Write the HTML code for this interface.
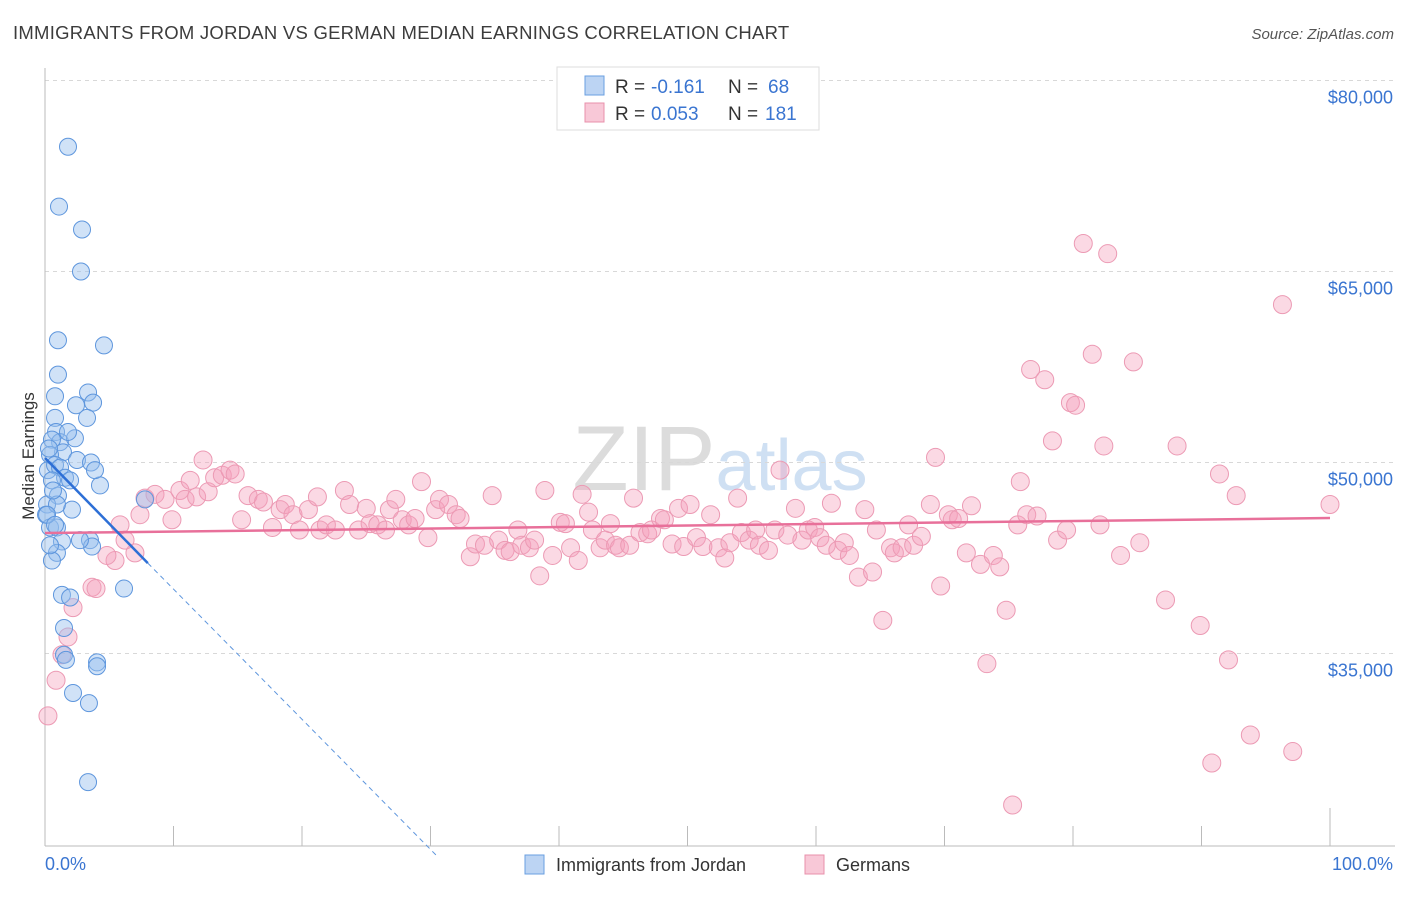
<!DOCTYPE html>
<html><head><meta charset="utf-8"><style>
body{margin:0;background:#fff;font-family:"Liberation Sans",sans-serif;}
svg text{font-family:"Liberation Sans",sans-serif;}
</style></head><body>
<svg id="chart" width="1406" height="892" viewBox="0 0 1406 892" xmlns="http://www.w3.org/2000/svg">
<text x="13" y="39" font-size="18.5" letter-spacing="0.25" fill="#3c3c3c">IMMIGRANTS FROM JORDAN VS GERMAN MEDIAN EARNINGS CORRELATION CHART</text>
<text x="1394" y="39" font-size="15" fill="#555" text-anchor="end" font-style="italic">Source: ZipAtlas.com</text>
<text x="720" y="490" font-size="92" fill="#e2e2e2" text-anchor="middle" font-family="Liberation Serif"><tspan fill="#dcdcdc">ZIP</tspan><tspan fill="#cfe0f3" font-family="Liberation Sans" font-size="72">atlas</tspan></text>
<g id="grid"></g>
<g id="axes"></g>
<g id="pts"></g>
<g id="trend"></g>
<text transform="translate(34,456) rotate(-90)" font-size="17" fill="#333" text-anchor="middle">Median Earnings</text>
<text x="45" y="870" font-size="18" fill="#3a75d1">0.0%</text>
<text x="1393" y="870" font-size="18" fill="#3a75d1" text-anchor="end">100.0%</text>
<g>
<rect x="557" y="67" width="262" height="63" fill="#fff" stroke="#ddd"/>
<rect x="585" y="76" width="19" height="19" fill="#bcd4f3" stroke="#6a9fe0"/>
<text x="615" y="93" font-size="19" fill="#333">R = </text>
<text x="651" y="93" font-size="19" fill="#3a75d1">-0.161</text>
<text x="728" y="93" font-size="19" fill="#333">N = </text>
<text x="768" y="93" font-size="19" fill="#3a75d1">68</text>
<rect x="585" y="103" width="19" height="19" fill="#f8c8d7" stroke="#e890ab"/>
<text x="615" y="120" font-size="19" fill="#333">R = </text>
<text x="651" y="120" font-size="19" fill="#3a75d1">0.053</text>
<text x="728" y="120" font-size="19" fill="#333">N = </text>
<text x="765" y="120" font-size="19" fill="#3a75d1">181</text>
</g>
<g>
<rect x="525" y="855" width="19" height="19" fill="#bcd4f3" stroke="#6a9fe0"/>
<text x="556" y="871" font-size="18" fill="#333">Immigrants from Jordan</text>
<rect x="805" y="855" width="19" height="19" fill="#f8c8d7" stroke="#e890ab"/>
<text x="836" y="871" font-size="18" fill="#333">Germans</text>
</g>
</svg>
<script>
const yTicks=[35000,50000,65000,80000];
const yTickLabels=["$35,000","$50,000","$65,000","$80,000"];
const xTicks=[0,10,20,30,40,50,60,70,80,90,100];
const jordanX=[1.79,1.09,2.88,2.80,1.01,4.59,1.01,3.35,0.78,2.41,3.74,3.27,0.78,0.86,1.17,0.54,1.40,2.49,3.58,0.39,0.23,0.78,1.17,1.56,1.95,4.28,0.54,1.01,0.16,2.10,0.08,0.39,0.93,1.32,3.50,3.66,0.93,0.54,1.32,1.95,6.15,1.48,1.48,1.63,4.05,4.05,2.18,3.42,3.35,7.78,0.39,2.72,3.89,2.33,0.93,0.62,1.79,0.31,0.16,0.78];
const jordanY=[74.8,70.1,68.3,65.0,59.6,59.2,56.9,55.5,55.2,54.5,54.7,53.5,53.5,52.4,51.6,51.8,50.8,50.2,50.0,50.6,49.4,49.8,49.6,48.8,48.6,48.2,48.6,47.4,46.7,46.3,45.9,44.9,44.9,43.8,43.9,43.4,42.9,42.3,39.6,39.4,40.1,37.0,34.9,34.5,34.3,34.0,31.9,31.1,24.9,47.1,43.5,43.9,49.4,51.9,46.7,47.8,52.4,51.1,45.9,45.1];
const germanX=[0.23,0.86,1.32,1.79,2.18,3.66,3.97,5.45,4.82,7.0,6.23,5.84,7.39,7.78,8.56,9.34,9.88,10.5,10.9,11.3,11.8,12.3,12.7,13.2,13.8,14.4,14.8,15.3,15.8,16.6,17.0,17.7,18.3,18.7,19.3,19.8,20.5,21.2,21.4,21.9,22.6,23.3,23.7,24.4,25.0,25.3,25.9,26.5,26.8,27.3,27.8,28.3,28.8,29.3,29.8,30.4,30.7,31.4,32.0,32.3,33.1,33.5,34.2,34.8,35.3,35.8,36.2,36.8,37.1,37.7,38.1,38.5,38.9,39.5,40.1,40.5,40.9,41.5,41.8,42.3,42.6,43.2,43.6,44.0,44.4,44.7,45.5,45.8,46.3,46.9,47.2,47.9,48.2,48.8,49.3,49.7,50.2,50.7,51.2,51.8,52.4,52.9,53.3,53.9,54.2,54.8,55.3,55.6,56.3,56.8,57.2,57.8,58.4,58.9,59.4,59.9,60.3,60.8,61.2,61.7,62.2,62.6,63.3,63.8,64.4,64.7,65.2,65.8,66.1,66.7,67.2,67.6,68.2,68.9,69.3,69.7,70.3,70.6,71.1,71.7,72.1,72.8,73.3,73.8,74.3,74.8,75.3,75.7,75.9,76.4,76.7,77.2,77.8,78.4,78.8,79.5,79.8,80.2,80.8,81.5,82.1,82.4,82.7,83.7,84.7,85.2,87.2,88.1,89.9,90.8,91.4,92.1,92.7,93.8,96.3,97.1,100];
const germanY=[30.1,32.9,34.9,36.3,38.6,40.2,40.1,42.3,42.7,42.9,43.9,45.1,45.9,47.2,47.5,47.1,45.5,47.8,47.1,48.6,47.3,50.2,47.7,48.8,49.0,49.4,49.1,45.5,47.4,47.1,46.9,44.9,46.3,46.7,45.9,44.7,46.3,47.3,44.7,45.1,44.7,47.8,46.7,44.7,46.4,45.2,45.1,44.7,46.3,47.1,45.5,45.1,45.6,48.5,44.1,46.3,47.1,46.7,45.9,45.6,42.6,43.6,43.5,47.4,43.9,43.1,43.0,44.7,43.5,43.3,43.9,41.1,47.8,42.7,45.3,45.2,43.3,42.3,47.5,46.1,44.7,43.3,43.9,45.2,43.5,43.3,43.5,47.2,44.5,44.4,44.7,45.6,45.5,43.6,46.4,43.4,46.7,44.1,43.4,45.9,43.3,42.5,43.7,47.2,44.5,43.9,44.7,43.5,43.1,44.7,49.4,44.3,46.4,43.9,44.7,44.9,44.1,43.5,46.8,43.1,43.7,42.7,41.0,46.3,41.4,44.7,37.6,43.3,42.9,43.3,45.1,43.5,44.2,46.7,50.4,40.3,45.9,45.5,45.6,42.9,46.6,42.0,34.2,42.7,41.8,38.4,23.1,45.1,48.5,45.9,57.3,45.8,56.5,51.7,43.9,44.7,54.7,54.5,67.2,58.5,45.1,51.3,66.4,42.7,57.9,43.7,39.2,51.3,37.2,26.4,49.1,34.5,47.4,28.6,62.4,27.3,46.7];
const jordanTrend=[50.35,42.1];const jordanTrendX=[0,8];const jordanDashEndX=[8,30.5];const jordanDashEndY=[42.1,19.1];
const germanTrendX=[0,100];const germanTrendY=[44.46,45.64];

const NS="http://www.w3.org/2000/svg";
const X0=45,X1=1330,YREF=462.5,PXK=12.733;
function sx(p){return X0+(X1-X0)*p/100;}
function sy(k){return YREF-(k-50)*PXK;}
function mk(tag,attrs,parent){const e=document.createElementNS(NS,tag);for(const k in attrs)e.setAttribute(k,attrs[k]);parent.appendChild(e);return e;}
const grid=document.getElementById('grid'),axes=document.getElementById('axes'),pts=document.getElementById('pts'),trend=document.getElementById('trend');
yTicks.forEach((t,i)=>{const y=sy(t/1000);
 const l=mk('line',{x1:45,x2:1395,y1:y,y2:y,stroke:'#d8d8d8','stroke-dasharray':'4,4'},grid);
 
 
 const tx=mk('text',{x:1393,y:y+23,'font-size':18,fill:'#3a75d1','text-anchor':'end'},grid);tx.textContent=yTickLabels[i];
 
 
});
const ya=mk('line',{x1:45,x2:45,y1:68,y2:846,stroke:'#bbb'},axes);


const xa=mk('line',{x1:45,x2:1395,y1:846,y2:846,stroke:'#bbb'},axes);


xTicks.forEach((t,i)=>{const x=sx(t);const top=(i===0||i===xTicks.length-1)?808:826;
 const l=mk('line',{x1:x,x2:x,y1:top,y2:846,stroke:'#bbb'},axes);
 
 
});
germanX.forEach((x,i)=>{const c=mk('circle',{cx:sx(x),cy:sy(germanY[i]),r:9,fill:'rgba(244,160,188,0.4)',stroke:'#ec9ab4','stroke-width':1},pts);
 
 
});
jordanX.forEach((x,i)=>{const c=mk('circle',{cx:sx(x),cy:sy(jordanY[i]),r:8.5,fill:'rgba(150,190,238,0.45)',stroke:'#5e96dd','stroke-width':1},pts);
 
 
});
const gt=mk('line',{x1:sx(germanTrendX[0]),y1:sy(germanTrendY[0]),x2:sx(germanTrendX[1]),y2:sy(germanTrendY[1]),stroke:'#e8709a','stroke-width':2.5},trend);


const jt=mk('line',{x1:sx(jordanTrendX[0]),y1:sy(jordanTrend[0]),x2:sx(jordanTrendX[1]),y2:sy(jordanTrend[1]),stroke:'#2d6fd6','stroke-width':2.5},trend);


const jd=mk('line',{x1:sx(jordanDashEndX[0]),y1:sy(jordanDashEndY[0]),x2:sx(jordanDashEndX[1]),y2:sy(jordanDashEndY[1]),stroke:'#5e96dd','stroke-width':1,'stroke-dasharray':'5,4'},trend);


</script>
</body></html>
